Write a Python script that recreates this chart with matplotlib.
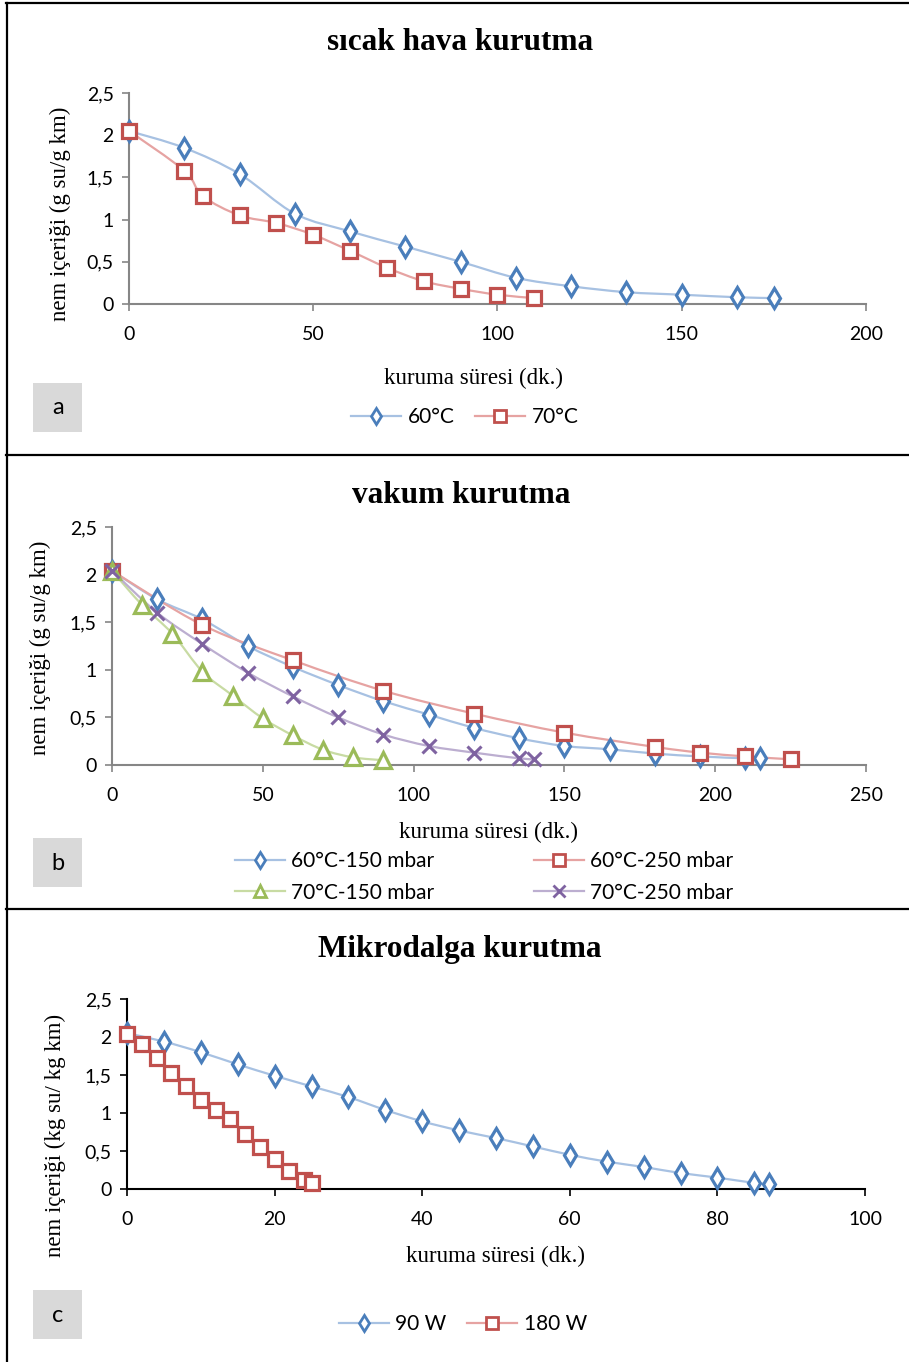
import matplotlib
matplotlib.use("Agg")
import matplotlib.pyplot as plt
import numpy as np
from matplotlib.path import Path
from matplotlib.patches import PathPatch, Rectangle
from matplotlib.lines import Line2D

# --- veriler ---
# a) sicak hava kurutma
a_x60 = [0, 15, 30, 45, 60, 75, 90, 105, 120, 135, 150, 165, 175]
a_y60 = [2.05, 1.85, 1.54, 1.07, 0.86, 0.68, 0.50, 0.31, 0.21, 0.14, 0.11, 0.08, 0.07]
a_x70 = [0, 15, 20, 30, 40, 50, 60, 70, 80, 90, 100, 110]
a_y70 = [2.05, 1.58, 1.28, 1.05, 0.96, 0.82, 0.63, 0.43, 0.27, 0.18, 0.11, 0.07]

# b) vakum kurutma
b_x1 = [0, 15, 30, 45, 60, 75, 90, 105, 120, 135, 150, 165, 180, 195, 210, 215]
b_y1 = [2.04, 1.74, 1.53, 1.25, 1.03, 0.84, 0.67, 0.53, 0.39, 0.28, 0.20, 0.165, 0.12, 0.09, 0.07, 0.07]
b_x2 = [0, 30, 60, 90, 120, 150, 180, 195, 210, 225]
b_y2 = [2.04, 1.47, 1.10, 0.78, 0.54, 0.34, 0.19, 0.13, 0.09, 0.06]
b_x3 = [0, 10, 20, 30, 40, 50, 60, 70, 80, 90]
b_y3 = [2.04, 1.68, 1.38, 0.98, 0.73, 0.49, 0.31, 0.16, 0.08, 0.05]
b_x4 = [0, 15, 30, 45, 60, 75, 90, 105, 120, 135, 140]
b_y4 = [2.04, 1.60, 1.27, 0.97, 0.72, 0.50, 0.32, 0.20, 0.13, 0.07, 0.06]

# c) mikrodalga kurutma
c_x90 = [0, 5, 10, 15, 20, 25, 30, 35, 40, 45, 50, 55, 60, 65, 70, 75, 80, 85, 87]
c_y90 = [2.05, 1.94, 1.80, 1.64, 1.49, 1.35, 1.21, 1.04, 0.89, 0.77, 0.67, 0.56, 0.45, 0.36, 0.29, 0.21, 0.15, 0.08, 0.07]
c_x180 = [0, 2, 4, 6, 8, 10, 12, 14, 16, 18, 20, 22, 24, 25]
c_y180 = [2.04, 1.91, 1.72, 1.53, 1.35, 1.17, 1.04, 0.92, 0.72, 0.55, 0.39, 0.24, 0.12, 0.08]

y_ticks = [0, 0.5, 1, 1.5, 2, 2.5]
y_labels = ["0", "0,5", "1", "1,5", "2", "2,5"]

BLUE_L, BLUE_M = "#a7c1e2", "#4a7ebb"
RED_L, RED_M = "#e6a3a2", "#c0504d"
GRN_L, GRN_M = "#c8dba3", "#9bbb59"
PUR_L, PUR_M = "#bcaed0", "#7f63a1"

W, H = 909, 1362
fig = plt.figure(figsize=(W / 100, H / 100), dpi=100)

SERIF = "Liberation Serif"
SANS = "Lato"


def smooth_path(x, y):
    # excel tarzi yumusatilmis cizgi (catmull-rom -> bezier)
    p = np.column_stack([x, y]).astype(float)
    verts = [p[0]]
    codes = [Path.MOVETO]
    n = len(p)
    for i in range(n - 1):
        p0 = p[i - 1] if i > 0 else p[i]
        p3 = p[i + 2] if i + 2 < n else p[i + 1]
        c1 = p[i] + (p[i + 1] - p0) / 6.0
        c2 = p[i + 1] - (p3 - p[i]) / 6.0
        verts += [c1, c2, p[i + 1]]
        codes += [Path.CURVE4] * 3
    return Path(verts, codes)


def seri(ax, x, y, lc, mc, marker, ms):
    ax.add_patch(PathPatch(smooth_path(x, y), fill=False, edgecolor=lc, lw=1.6, zorder=2))
    if marker == "x":
        ax.plot(x, y, ls="none", marker="x", ms=ms, mew=2.2, color=mc, clip_on=False, zorder=3)
    else:
        ax.plot(x, y, ls="none", marker=marker, ms=ms, mew=2.3, mec=mc, mfc="white",
                clip_on=False, zorder=3)
    fc = mc if marker == "x" else "white"
    return Line2D([], [], color=lc, lw=1.6, marker=marker, ms=ms * 0.8, mew=2.0, mec=mc, mfc=fc)


def eksen(rect_px, xmax, xstep, spine_col):
    l, r, b, t = rect_px
    ax = fig.add_axes([l / W, 1 - b / H, (r - l) / W, (b - t) / H])
    ax.set_xlim(0, xmax)
    ax.set_ylim(0, 2.5)
    ax.set_xticks(np.arange(0, xmax + 1, xstep))
    ax.set_yticks(y_ticks)
    ax.set_yticklabels(y_labels)
    for s in ["top", "right"]:
        ax.spines[s].set_visible(False)
    for s in ["left", "bottom"]:
        ax.spines[s].set_color(spine_col)
        ax.spines[s].set_linewidth(1.5)
    ax.tick_params(direction="out", length=5, width=1.2, color=spine_col,
                   labelsize=14, pad=6)
    ax.tick_params(axis="x", pad=11)
    for lab in ax.get_xticklabels() + ax.get_yticklabels():
        lab.set_fontfamily(SANS)
    return ax


def px(x, y):
    return x / W, 1 - y / H


TITLE_FS = 22.5
LAB_FS = 16.5
LEG_FS = 15

# ---------- a ----------
ax = eksen((129, 866, 304, 93), 200, 50, "#868686")
h1 = seri(ax, a_x60, a_y60, BLUE_L, BLUE_M, "d", 10.5)
h2 = seri(ax, a_x70, a_y70, RED_L, RED_M, "s", 10.5)
fig.text(*px(460, 43), "sıcak hava kurutma", ha="center", va="center",
         fontfamily=SERIF, fontweight="bold", fontsize=TITLE_FS)
fig.text(*px(474, 378), "kuruma süresi (dk.)", ha="center", va="center",
         fontfamily=SERIF, fontsize=LAB_FS)
fig.text(*px(60, 214), "nem içeriği (g su/g km)", ha="center", va="center",
         rotation=90, fontfamily=SERIF, fontsize=LAB_FS)
fig.legend([h1, h2], ["60°C", "70°C"], loc="center", bbox_to_anchor=px(465, 417),
           ncol=2, frameon=False, prop={"family": SANS, "size": LEG_FS},
           handlelength=2.4, columnspacing=1.0, handletextpad=0.3)

# ---------- b ----------
ax = eksen((112, 866, 765, 527), 250, 50, "#868686")
g1 = seri(ax, b_x1, b_y1, BLUE_L, BLUE_M, "d", 10.5)
g2 = seri(ax, b_x2, b_y2, RED_L, RED_M, "s", 10.5)
g3 = seri(ax, b_x3, b_y3, GRN_L, GRN_M, "^", 11)
g4 = seri(ax, b_x4, b_y4, PUR_L, PUR_M, "x", 10)
fig.text(*px(461, 496), "vakum kurutma", ha="center", va="center",
         fontfamily=SERIF, fontweight="bold", fontsize=TITLE_FS)
fig.text(*px(489, 832), "kuruma süresi (dk.)", ha="center", va="center",
         fontfamily=SERIF, fontsize=LAB_FS)
fig.text(*px(40, 648), "nem içeriği (g su/g km)", ha="center", va="center",
         rotation=90, fontfamily=SERIF, fontsize=LAB_FS)
fig.legend([g1, g3, g2, g4], ["60°C-150 mbar", "70°C-150 mbar", "60°C-250 mbar", "70°C-250 mbar"],
           loc="center", bbox_to_anchor=px(484, 877), ncol=2, frameon=False,
           prop={"family": SANS, "size": LEG_FS}, handlelength=2.4, columnspacing=4.8,
           handletextpad=0.3, labelspacing=0.55)

# ---------- c ----------
ax = eksen((127, 865, 1189, 999), 100, 20, "black")
k1 = seri(ax, c_x90, c_y90, BLUE_L, BLUE_M, "d", 10.5)
k2 = seri(ax, c_x180, c_y180, RED_L, RED_M, "s", 10.5)
fig.text(*px(460, 950), "Mikrodalga kurutma", ha="center", va="center",
         fontfamily=SERIF, fontweight="bold", fontsize=TITLE_FS)
fig.text(*px(496, 1256), "kuruma süresi (dk.)", ha="center", va="center",
         fontfamily=SERIF, fontsize=LAB_FS)
fig.text(*px(55, 1135), "nem içeriği (kg su/ kg km)", ha="center", va="center",
         rotation=90, fontfamily=SERIF, fontsize=LAB_FS)
fig.legend([k1, k2], ["90 W", "180 W"], loc="center", bbox_to_anchor=px(463, 1324),
           ncol=2, frameon=False, prop={"family": SANS, "size": LEG_FS},
           handlelength=2.4, columnspacing=1.0, handletextpad=0.3)

# etiket kutulari a, b, c
for harf, ytop in [("a", 383), ("b", 838), ("c", 1290)]:
    fig.patches.append(Rectangle(px(33, ytop + 49), 49 / W, 49 / H, transform=fig.transFigure,
                                 facecolor="#d9d9d9", edgecolor="none"))
    fig.text(*px(58, ytop + 25), harf, ha="center", va="center", fontfamily=SANS, fontsize=17)

# panel cerceveleri
for (x0, y0, x1, y1) in [(6, 3, 909, 3), (6.5, 3, 6.5, 1362), (6, 455, 909, 455), (6, 909, 909, 909)]:
    fig.lines.append(Line2D([x0 / W, x1 / W], [1 - y0 / H, 1 - y1 / H], transform=fig.transFigure,
                            color="black", lw=1.6))

fig.savefig("out.png", dpi=100)
